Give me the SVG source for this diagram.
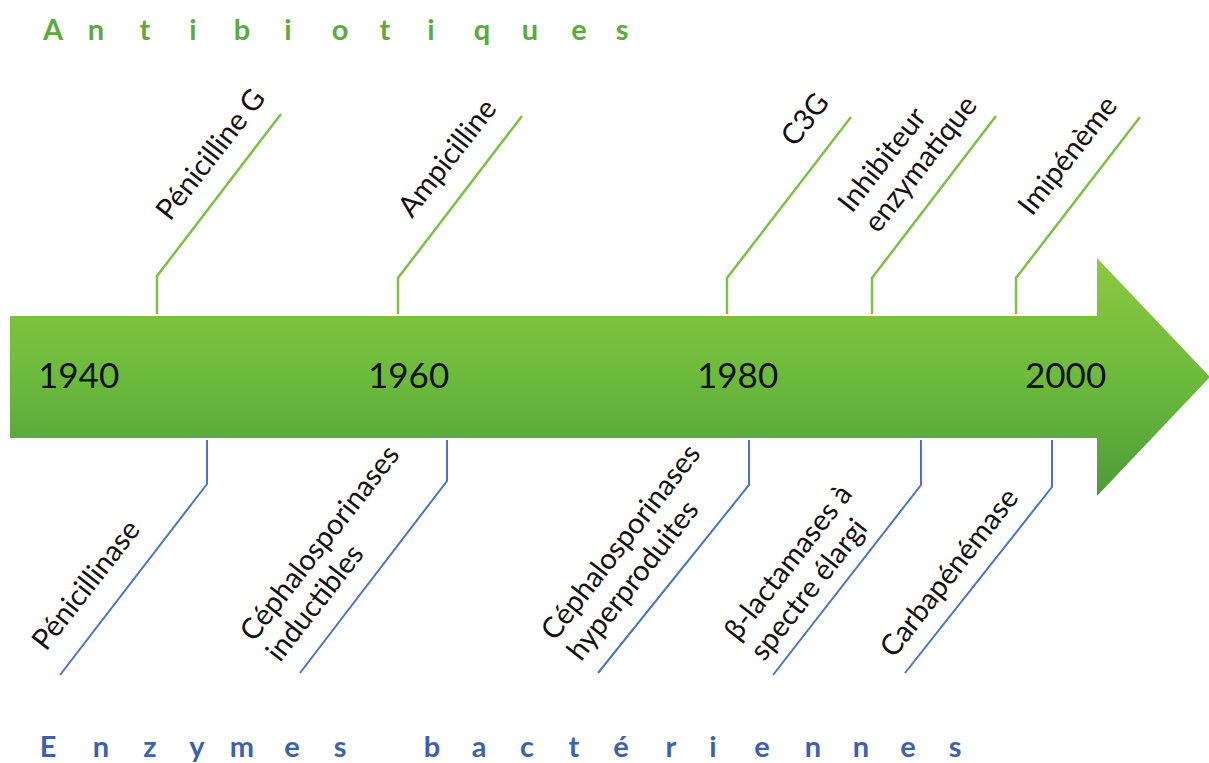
<svg xmlns="http://www.w3.org/2000/svg" width="1209" height="763" viewBox="0 0 1209 763">
<defs>
<linearGradient id="g" x1="0" y1="258" x2="0" y2="497" gradientUnits="userSpaceOnUse">
<stop offset="0" stop-color="#8ec83f"/>
<stop offset="0.5" stop-color="#6cba3d"/>
<stop offset="1" stop-color="#4f9a3a"/>
</linearGradient>
<style>
.t{font-family:Lato,"Liberation Sans",sans-serif;font-weight:bold;font-size:29px;text-anchor:middle}
.yr{font-family:Lato,"Liberation Sans",sans-serif;font-size:35px;fill:#111}
.lb{font-family:Lato,"Liberation Sans",sans-serif;font-size:29px;fill:#111}
.gl{fill:none;stroke:#7cc242;stroke-width:2.5}
.bl{fill:none;stroke:#4a74c4;stroke-width:2}
</style>
</defs>
<rect width="1209" height="763" fill="#fff"/>
<text class="t" fill="#5aaa3c" y="40" x="53 96 145 193 242 288 340 385 431 482 530 579 622">Antibiotiques</text>
<text class="t" fill="#3c62ae" y="757" x="48 101 150 197 242 292 340 432 479 527 574 621 671 713 762 813 861 908 955">Enzymesbactériennes</text>
<g id="arrow">
<path d="M10,316 H1097 V258 L1210,377 L1097,496 V438 H10 Z" fill="url(#g)"/>
</g>
<g id="connectors">
<path class="gl" d="M157,314 V276 L281,114"/>
<path class="gl" d="M398,314 V278 L522,116"/>
<path class="gl" d="M727,314 V278 L851,117"/>
<path class="gl" d="M872,314 V278 L996,116"/>
<path class="gl" d="M1016,314 V278 L1140,117"/>
<path class="bl" d="M207,440 V484 L60,675"/>
<path class="bl" d="M447,440 V481 L300,673"/>
<path class="bl" d="M749,440 V485 L598,673"/>
<path class="bl" d="M921,440 V485 L773,675"/>
<path class="bl" d="M1052,440 V487 L905,673"/>
</g>
<g id="years">
<text class="yr" x="38" y="388">1940</text>
<text class="yr" x="368" y="388">1960</text>
<text class="yr" x="697" y="388">1980</text>
<text class="yr" x="1025" y="388">2000</text>
</g>
<g id="n1"><text class="lb" transform="translate(170,222) rotate(-52)">Pénicilline G</text></g>
<g id="n2"><text class="lb" transform="translate(412,219) rotate(-52)">Ampicilline</text></g>
<g id="n3"><text class="lb" transform="translate(795,148) rotate(-52)">C3G</text></g>
<g id="n4"><text class="lb" transform="translate(852,214) rotate(-52)">Inhibiteur<tspan x="0" dy="33">enzymatique</tspan></text></g>
<g id="n5"><text class="lb" transform="translate(1032,217) rotate(-52)">Imipénème</text></g>
<g id="n6"><text class="lb" transform="translate(46,652) rotate(-52)">Pénicillinase</text></g>
<g id="n7"><text class="lb" transform="translate(254,643) rotate(-52)">Céphalosporinases<tspan x="0" dy="33">inductibles</tspan></text></g>
<g id="n8"><text class="lb" transform="translate(555,642) rotate(-52)">Céphalosporinases<tspan x="0" dy="33">hyperproduites</tspan></text></g>
<g id="n9"><text class="lb" transform="translate(738,642) rotate(-52)">β-lactamases à<tspan x="0" dy="33">spectre élargi</tspan></text></g>
<g id="n10"><text class="lb" transform="translate(894,659) rotate(-52)">Carbapénémase</text></g>
</svg>
